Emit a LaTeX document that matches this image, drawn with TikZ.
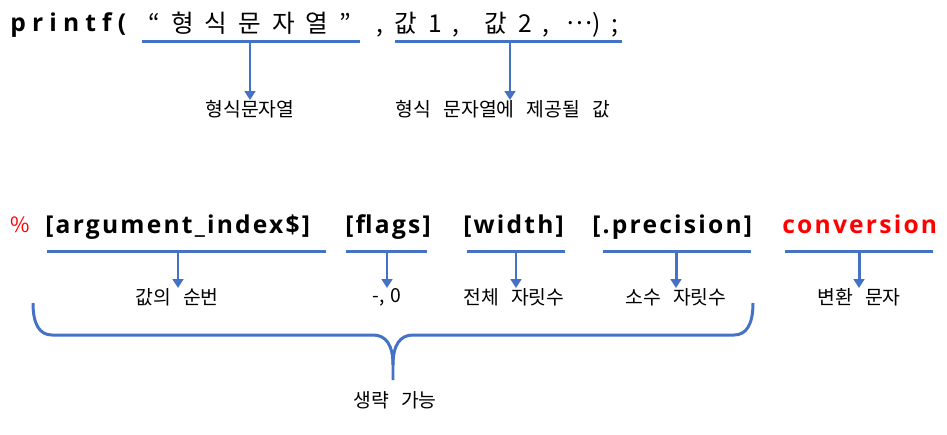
\documentclass[tikz,border=0pt]{standalone}
\usepackage{fontspec}
\setmainfont[WordSpace=2.8]{Noto Sans CJK KR}
\newfontfamily\codefont[LetterSpace=9]{Open Sans}
\newfontfamily\callfont[LetterSpace=25]{Open Sans}
\newfontfamily\wideko[LetterSpace=45]{Noto Sans CJK KR}
\usepackage{tikz}
\usetikzlibrary{positioning,arrows.meta,calc}

\definecolor{lineblue}{HTML}{4472C4}
\definecolor{convred}{HTML}{FF0000}

\tikzset{
  blueline/.style={draw=lineblue, line width=1.7pt},
  downarrow/.style={blueline, -{Triangle[width=6pt,length=5pt]}},
  calltext/.style={font=\callfont\bfseries\fontsize{14}{16}\selectfont, inner sep=0pt, anchor=base west},
  kotext/.style={font=\wideko\fontsize{14}{16}\selectfont, inner sep=0pt, anchor=base west},
  codetext/.style={font=\codefont\bfseries\fontsize{14}{16}\selectfont, inner sep=0pt, anchor=base west},
  desc/.style={font=\fontsize{11}{13}\selectfont, inner sep=0pt, anchor=north},
}

\begin{document}
\begin{tikzpicture}[x=0.02cm, y=-0.02cm]
  \useasboundingbox (0,0) rectangle (947,434);

  % printf call
  \node[calltext] (call) at (10, 31) {printf(};
  \node[kotext] (fmt) at (148, 32) {“형식문자열”};
  \node[kotext] (comma) at (376, 32) {,};
  \node[kotext] (val1) at (394, 32) {값1,};
  \node[kotext] (val2) at (484, 32) {값2,};
  \node[kotext] (rest) at (566, 32) {\raisebox{0.3em}{…});};

  % underlines of the call
  \coordinate (fa) at (142, 41);
  \coordinate (fb) at (360, 41);
  \coordinate (va) at (395, 41);
  \coordinate (vb) at (622, 41);
  \draw[blueline] (fa) -- (fb);
  \draw[blueline] (va) -- (vb);

  \node[desc] (fmtlbl) at (250, 100) {형식문자열};
  \node[desc] (vallbl) at (503, 100) {형식 문자열에 제공될 값};
  \draw[downarrow] (250, 41) -- (fmtlbl.north);
  \draw[downarrow] (510, 41) -- (vallbl.north -| 510, 0);

  % format specifier
  \node[codetext, text=convred, font=\fontsize{12}{14}\selectfont] (pct) at (10, 232) {\%};
  \node[codetext] (argidx) at (45, 233) {[argument\_index\$]};
  \node[codetext] (flags) at (345, 233) {[flags]};
  \node[codetext] (width) at (463, 233) {[width]};
  \node[codetext] (prec) at (592, 233) {[.precision]};
  \node[codetext, text=convred] (conv) at (782, 233) {conversion};

  % underlines of the parts
  \draw[blueline] (47, 251) -- (326, 251);
  \draw[blueline] (346, 251) -- (427, 251);
  \draw[blueline] (467, 251) -- (565, 251);
  \draw[blueline] (603, 251) -- (751, 251);
  \draw[blueline] (785, 251) -- (933, 251);

  \node[desc] (idxlbl) at (177, 288) {값의 순번};
  \node[desc] (flglbl) at (387, 288) {-,\hspace{3pt}0};
  \node[desc] (widlbl) at (514, 288) {전체 자릿수};
  \node[desc] (prclbl) at (676, 288) {소수 자릿수};
  \node[desc] (cnvlbl) at (859, 288) {변환 문자};

  \draw[downarrow] (178, 251) -- (idxlbl.north -| 178, 0);
  \draw[downarrow] (387, 251) -- (flglbl.north);
  \draw[downarrow] (516, 251) -- (widlbl.north -| 516, 0);
  \draw[downarrow] (676, 251) -- (prclbl.north);
  \draw[downarrow] (859, 251) -- (cnvlbl.north);

  % brace over the optional parts
  \draw[blueline] (33, 303) .. controls (33, 325) and (40, 335) .. (52, 335)
    -- (373, 335) .. controls (386, 335) and (393, 345) .. (393, 365)
    -- (393, 380);
  \draw[blueline] (753, 303) .. controls (753, 325) and (746, 335) .. (734, 335)
    -- (413, 335) .. controls (400, 335) and (393, 345) .. (393, 365);
  \node[desc, anchor=center] (optlbl) at (395, 400) {생략 가능};
\end{tikzpicture}
\end{document}
